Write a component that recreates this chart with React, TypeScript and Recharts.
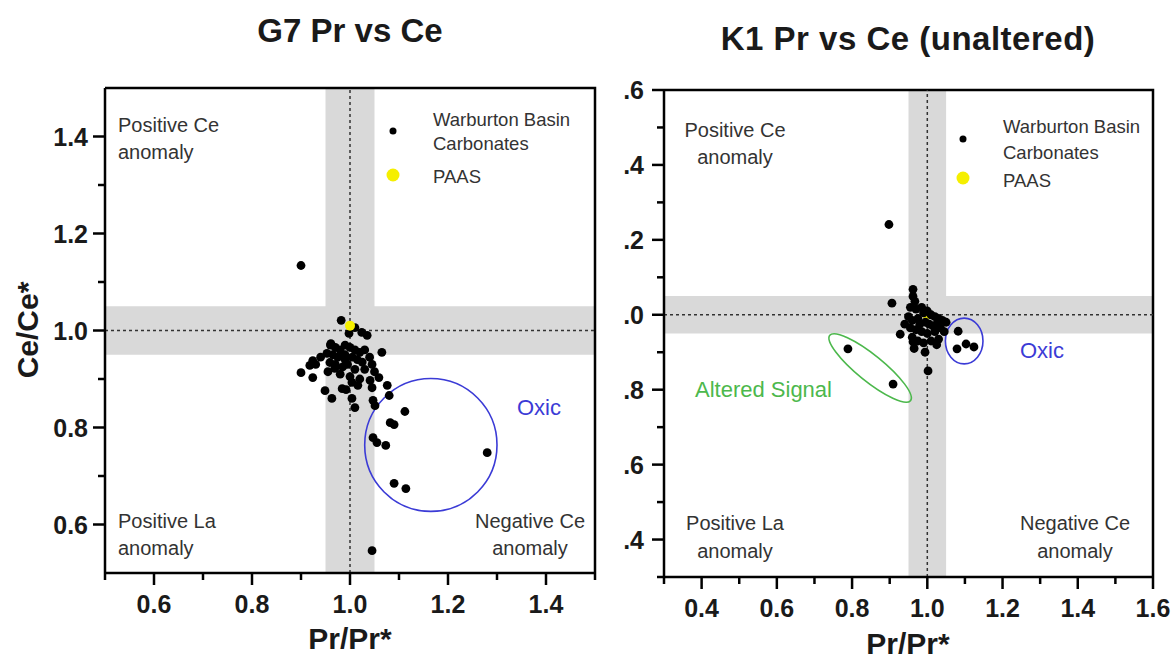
import React from "react";
import { ScatterChart, Scatter, XAxis, YAxis, ReferenceArea, ReferenceLine } from "recharts";

// G7 samples as [Pr/Pr*, Ce/Ce*]
const g7Samples: [number, number][] = [
  [0.9, 1.134], [1.045, 0.546], [1.28, 0.748], [1.09, 0.685], [1.114, 0.674],
  [1.047, 0.779], [1.055, 0.769], [1.073, 0.763], [1.082, 0.81], [1.09, 0.806],
  [1.112, 0.833], [1.08, 0.866], [1.076, 0.887], [1.059, 0.903], [1.047, 0.856],
  [1.051, 0.845], [1.065, 0.955],
  [0.982, 1.021], [1.01, 1.006], [0.998, 0.994], [1.024, 0.996], [1.035, 0.99],
  [0.961, 0.973], [0.953, 0.953], [0.959, 0.934], [0.969, 0.922], [0.924, 0.938],
  [0.918, 0.928], [0.9, 0.913], [0.924, 0.903], [1.004, 0.893], [1.016, 0.887],
  [0.984, 0.88], [0.992, 0.878], [0.949, 0.876], [0.963, 0.86], [1.041, 0.897],
  [1.045, 0.882], [1.004, 0.86], [1.01, 0.841],
  [0.96, 0.97], [0.97, 0.965], [0.98, 0.96], [0.99, 0.97], [1.0, 0.965],
  [1.01, 0.96], [1.02, 0.955], [1.03, 0.96], [0.965, 0.95], [0.975, 0.945],
  [0.99, 0.95], [1.005, 0.945], [1.015, 0.94], [1.025, 0.935], [1.04, 0.945],
  [0.97, 0.93], [0.985, 0.925], [0.995, 0.93], [1.01, 0.92], [1.03, 0.92],
  [0.98, 0.91], [1.0, 0.905], [1.02, 0.9], [0.99, 0.94], [1.045, 0.93],
  [1.05, 0.915], [0.955, 0.915], [0.94, 0.945], [0.93, 0.93],
];
const g7Paas: [number, number][] = [[1.0, 1.01]];

// K1 samples as [Pr/Pr*, Ce/Ce*]
const k1Samples: [number, number][] = [
  [0.898, 1.241], [0.906, 1.031], [0.962, 1.068], [0.962, 1.049], [0.967, 1.036],
  [0.955, 1.02], [0.97, 1.015], [0.985, 1.02], [0.99, 1.005], [1.0, 1.01],
  [1.01, 1.0], [1.02, 0.995], [1.03, 0.99], [1.04, 0.985], [1.05, 0.98],
  [0.95, 0.995], [0.96, 0.985], [0.975, 0.99], [0.98, 0.975], [0.995, 0.98],
  [1.005, 0.975], [1.015, 0.97], [1.025, 0.975], [1.035, 0.965], [0.94, 0.975],
  [0.955, 0.965], [0.97, 0.96], [0.985, 0.955], [1.0, 0.95], [1.02, 0.955],
  [1.045, 0.955], [0.928, 0.948], [0.962, 0.928], [0.975, 0.93], [0.994, 0.9],
  [1.002, 0.85], [0.965, 0.91], [0.99, 0.925], [1.01, 0.93], [1.03, 0.935],
  [1.025, 0.92], [0.96, 0.94],
  // oxic group
  [1.082, 0.956], [1.103, 0.922], [1.124, 0.914], [1.079, 0.909],
  // altered group
  [0.789, 0.909], [0.909, 0.815],
];
const k1Paas: [number, number][] = [[1.0, 1.0]];

// ellipse boxes: [x1, x2, y1, y2]
const g7OxicBox = [1.03, 1.3, 0.627, 0.901];
const k1OxicBox = [1.048, 1.148, 0.869, 0.991];
const k1AlteredBox = [0.71, 0.986, 0.823, 0.893];

const g7XTicks = [0.5, 0.6, 0.7, 0.8, 0.9, 1.0, 1.1, 1.2, 1.3, 1.4, 1.5];
const g7XMajor = [0.6, 0.8, 1.0, 1.2, 1.4];
const g7YTicks = [0.6, 0.7, 0.8, 0.9, 1.0, 1.1, 1.2, 1.3, 1.4];
const g7YMajor = [0.6, 0.8, 1.0, 1.2, 1.4];

const k1XTicks = [0.3, 0.4, 0.5, 0.6, 0.7, 0.8, 0.9, 1.0, 1.1, 1.2, 1.3, 1.4, 1.5, 1.6];
const k1XMajor = [0.4, 0.6, 0.8, 1.0, 1.2, 1.4, 1.6];
const k1YTicks = [0.3, 0.4, 0.5, 0.6, 0.7, 0.8, 0.9, 1.0, 1.1, 1.2, 1.3, 1.4, 1.5, 1.6];
const k1YMajor = [0.4, 0.6, 0.8, 1.0, 1.2, 1.4, 1.6];

const FONT = "'Liberation Sans', Arial, sans-serif";
const BAND = "#d9d9d9";
const OXIC = "#3b3bd6";
const ALTERED = "#4cb84c";
const PAAS = "#f5ef00";

const toPoints = (rows: [number, number][]) => rows.map(([x, y]) => ({ x, y }));

const isIn = (list: number[], v: number) => list.some((m) => Math.abs(m - v) < 1e-6);

const full = (v: number) => v.toFixed(1);
// the K1 panel sits flush against the G7 one, so only the fraction of its y labels shows
const fraction = (v: number) => v.toFixed(1).slice(1);

const bottomTick = (major: number[]) => (props: any) => {
  const { x, y, payload } = props;
  const big = isIn(major, payload.value);
  return (
    <g>
      <line x1={x} x2={x} y1={y} y2={y + (big ? 12 : 7)} stroke="#000" strokeWidth={2.5} />
      {big && (
        <text x={x} y={y + 40} textAnchor="middle" fontFamily={FONT} fontWeight="bold" fontSize={25} fill="#1a1a1a">
          {full(payload.value)}
        </text>
      )}
    </g>
  );
};

const leftTick = (major: number[], fmt: (v: number) => string, gap: number) => (props: any) => {
  const { x, y, payload } = props;
  const big = isIn(major, payload.value);
  return (
    <g>
      <line x1={x - (big ? 12 : 7)} x2={x} y1={y} y2={y} stroke="#000" strokeWidth={2.5} />
      {big && (
        <text x={x - gap} y={y + 9} textAnchor="end" fontFamily={FONT} fontWeight="bold" fontSize={25} fill="#1a1a1a">
          {fmt(payload.value)}
        </text>
      )}
    </g>
  );
};

const dot = (fill: string, r: number) => (props: any) =>
  <circle cx={props.cx} cy={props.cy} r={r} fill={fill} />;

const ellipse = (stroke: string, angle: number) => (props: any) => {
  const { x, y, width, height } = props;
  const cx = x + width / 2;
  const cy = y + height / 2;
  return (
    <ellipse
      cx={cx}
      cy={cy}
      rx={Math.abs(width) / 2}
      ry={Math.abs(height) / 2}
      fill="none"
      stroke={stroke}
      strokeWidth={1.6}
      transform={`rotate(${angle} ${cx} ${cy})`}
    />
  );
};

// top and right edges of the plot box
const frameEdges = (props: any) => {
  const { x, y, width, height } = props;
  return (
    <path
      d={`M${x},${y}H${x + width}V${y + height}`}
      fill="none"
      stroke="#000"
      strokeWidth={2.5}
    />
  );
};

type PanelProps = {
  width: number;
  height: number;
  margin: { top: number; right: number; bottom: number; left: number };
  yWidth: number;
  xHeight: number;
  xDomain: [number, number];
  yDomain: [number, number];
  xTicks: number[];
  xMajor: number[];
  yTicks: number[];
  yMajor: number[];
  yFormat: (v: number) => string;
  labelGap: number;
  samples: [number, number][];
  paas: [number, number][];
  paasOnTop: boolean;
  oxic: number[];
  altered?: number[];
};

function Panel(p: PanelProps) {
  const axisLine = { stroke: "#000", strokeWidth: 2.5 };
  const paasSeries = (
    <Scatter key="paas" data={toPoints(p.paas)} shape={dot(PAAS, 5)} isAnimationActive={false} />
  );
  return (
    <ScatterChart width={p.width} height={p.height} margin={p.margin}>
      <XAxis
        type="number"
        dataKey="x"
        domain={p.xDomain}
        allowDataOverflow
        ticks={p.xTicks}
        interval={0}
        height={p.xHeight}
        tickSize={0}
        tickMargin={0}
        tickLine={false}
        axisLine={axisLine}
        tick={bottomTick(p.xMajor)}
      />
      <YAxis
        type="number"
        dataKey="y"
        domain={p.yDomain}
        allowDataOverflow
        ticks={p.yTicks}
        interval={0}
        width={p.yWidth}
        tickSize={0}
        tickMargin={0}
        tickLine={false}
        axisLine={axisLine}
        tick={leftTick(p.yMajor, p.yFormat, p.labelGap)}
      />

      <ReferenceArea x1={0.95} x2={1.05} fill={BAND} fillOpacity={1} stroke="none" />
      <ReferenceArea y1={0.95} y2={1.05} fill={BAND} fillOpacity={1} stroke="none" />
      <ReferenceLine x={1} stroke="#333" strokeWidth={1.5} strokeDasharray="3 3" />
      <ReferenceLine y={1} stroke="#333" strokeWidth={1.5} strokeDasharray="3 3" />

      <ReferenceArea
        x1={p.xDomain[0]}
        x2={p.xDomain[1]}
        y1={p.yDomain[0]}
        y2={p.yDomain[1]}
        ifOverflow="visible"
        shape={frameEdges}
      />

      <ReferenceArea x1={p.oxic[0]} x2={p.oxic[1]} y1={p.oxic[2]} y2={p.oxic[3]} shape={ellipse(OXIC, 0)} />
      {p.altered ? (
        <ReferenceArea
          x1={p.altered[0]}
          x2={p.altered[1]}
          y1={p.altered[2]}
          y2={p.altered[3]}
          shape={ellipse(ALTERED, 39)}
        />
      ) : null}

      {p.paasOnTop ? null : paasSeries}
      <Scatter data={toPoints(p.samples)} shape={dot("#000", 4.4)} isAnimationActive={false} />
      {p.paasOnTop ? paasSeries : null}
    </ScatterChart>
  );
}

const T = (props: any) => <text fontFamily={FONT} dominantBaseline="central" {...props} />;

export default function App() {
  return (
    <div style={{ position: "absolute", left: 0, top: 0, width: 1176, height: 668, background: "#fff", overflow: "hidden" }}>
      <div style={{ position: "absolute", left: 0, top: 0, width: 600, height: 668 }}>
        <Panel
          width={600}
          height={668}
          margin={{ top: 88, right: 5, bottom: 0, left: 0 }}
          yWidth={105}
          xHeight={95}
          xDomain={[0.5, 1.5]}
          yDomain={[0.5, 1.5]}
          xTicks={g7XTicks}
          xMajor={g7XMajor}
          yTicks={g7YTicks}
          yMajor={g7YMajor}
          yFormat={full}
          labelGap={17}
          samples={g7Samples}
          paas={g7Paas}
          paasOnTop
          oxic={g7OxicBox}
        />
      </div>
      <div style={{ position: "absolute", left: 600, top: 0, width: 576, height: 668 }}>
        <Panel
          width={576}
          height={668}
          margin={{ top: 90, right: 23, bottom: 0, left: 0 }}
          yWidth={64}
          xHeight={91}
          xDomain={[0.3, 1.6]}
          yDomain={[0.3, 1.6]}
          xTicks={k1XTicks}
          xMajor={k1XMajor}
          yTicks={k1YTicks}
          yMajor={k1YMajor}
          yFormat={fraction}
          labelGap={20}
          samples={k1Samples}
          paas={k1Paas}
          paasOnTop={false}
          oxic={k1OxicBox}
          altered={k1AlteredBox}
        />
      </div>

      <svg width={1176} height={668} style={{ position: "absolute", left: 0, top: 0, pointerEvents: "none" }}>
        {/* titles */}
        <T x={350} y={30} textAnchor="middle" fontWeight="bold" fontSize={33} fill="#1a1a1a">G7 Pr vs Ce</T>
        <T x={908} y={38} textAnchor="middle" fontWeight="bold" fontSize={33} fill="#1a1a1a" letterSpacing={0.5}>K1 Pr vs Ce (unaltered)</T>

        {/* axis titles */}
        <T x={350} y={638} textAnchor="middle" fontWeight="bold" fontSize={30} fill="#1a1a1a">Pr/Pr*</T>
        <T x={908} y={643} textAnchor="middle" fontWeight="bold" fontSize={30} fill="#1a1a1a">Pr/Pr*</T>
        <T x={27} y={330} textAnchor="middle" fontWeight="bold" fontSize={30} fill="#1a1a1a" transform="rotate(-90 27 330)">Ce/Ce*</T>

        {/* G7 quadrant notes */}
        <g fontSize={20} fill="#333">
          <T x={118} y={125}>Positive Ce</T>
          <T x={118} y={152}>anomaly</T>
          <T x={118} y={521}>Positive La</T>
          <T x={118} y={548}>anomaly</T>
          <T x={530} y={521} textAnchor="middle">Negative Ce</T>
          <T x={530} y={548} textAnchor="middle">anomaly</T>
        </g>
        <T x={517} y={407} fontSize={22} fill={OXIC}>Oxic</T>

        {/* G7 legend */}
        <circle cx={393} cy={131} r={3.5} fill="#000" />
        <circle cx={393} cy={175} r={6.5} fill={PAAS} />
        <g fontSize={18.5} fill="#333">
          <T x={433} y={119}>Warburton Basin</T>
          <T x={433} y={143}>Carbonates</T>
          <T x={433} y={176}>PAAS</T>
        </g>

        {/* K1 quadrant notes */}
        <g fontSize={20} fill="#333" textAnchor="middle">
          <T x={735} y={130}>Positive Ce</T>
          <T x={735} y={157}>anomaly</T>
          <T x={735} y={523}>Positive La</T>
          <T x={735} y={551}>anomaly</T>
          <T x={1075} y={523}>Negative Ce</T>
          <T x={1075} y={551}>anomaly</T>
        </g>
        <T x={1020} y={350} fontSize={22} fill={OXIC}>Oxic</T>
        <T x={695} y={389} fontSize={22} fill={ALTERED}>Altered Signal</T>

        {/* K1 legend */}
        <circle cx={963} cy={139} r={3.5} fill="#000" />
        <circle cx={963} cy={178} r={6.5} fill={PAAS} />
        <g fontSize={18.5} fill="#333">
          <T x={1003} y={126}>Warburton Basin</T>
          <T x={1003} y={152}>Carbonates</T>
          <T x={1003} y={180}>PAAS</T>
        </g>
      </svg>
    </div>
  );
}
